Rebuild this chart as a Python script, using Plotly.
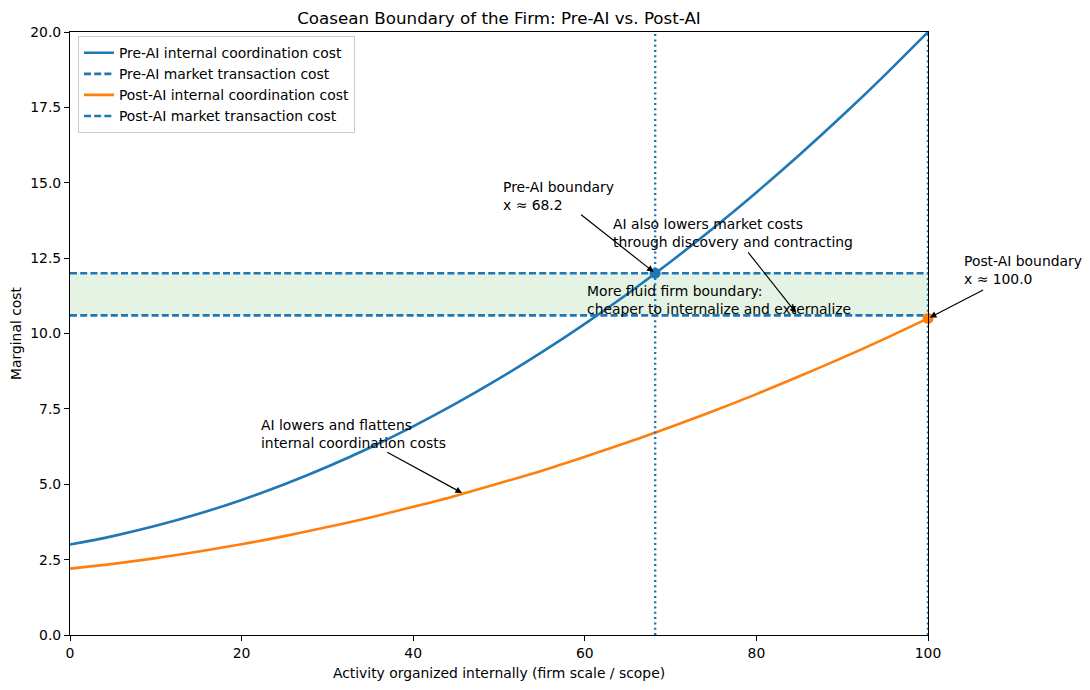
import plotly.graph_objects as go

# ---- data ----
activity = [0, 5, 10, 15, 20, 25, 30, 35, 40, 45, 50, 55, 60, 65, 70, 75, 80, 85, 90, 95, 100]
pre_internal = [3.00, 3.28, 3.62, 4.02, 4.48, 5.00, 5.58, 6.22, 6.92, 7.68, 8.50,
                9.38, 10.32, 11.32, 12.38, 13.50, 14.68, 15.92, 17.22, 18.58, 20.00]
post_internal = [2.20, 2.36, 2.55, 2.77, 3.01, 3.28, 3.58, 3.90, 4.25, 4.62, 5.03,
                 5.45, 5.91, 6.39, 6.90, 7.43, 7.99, 8.58, 9.19, 9.83, 10.50]
pre_market = 12.0
post_market = 10.6
pre_boundary_x = 68.2
post_boundary_x = 100.0
post_boundary_y = 10.5
x_ticks = [0, 20, 40, 60, 80, 100]
y_ticks = [0, 2.5, 5, 7.5, 10, 12.5, 15, 17.5, 20]

BLUE = "#1f77b4"
ORANGE = "#ff7f0e"
FONT = "DejaVu Sans"
FS = 13.9

fig = go.Figure()

# shaded band between market costs
fig.add_shape(type="rect", xref="x", yref="y", x0=0, x1=100, y0=post_market, y1=pre_market,
              fillcolor="rgba(44,160,44,0.13)", line_width=0, layer="below")

fig.add_trace(go.Scatter(x=activity, y=pre_internal, mode="lines", line_shape="spline",
                         line=dict(color=BLUE, width=2.6), name="Pre-AI internal coordination cost"))
fig.add_trace(go.Scatter(x=[0, 100], y=[pre_market, pre_market], mode="lines",
                         line=dict(color=BLUE, width=2.6, dash="7px,3.2px"),
                         name="Pre-AI market transaction cost"))
fig.add_trace(go.Scatter(x=activity, y=post_internal, mode="lines", line_shape="spline",
                         line=dict(color=ORANGE, width=2.6), name="Post-AI internal coordination cost"))
fig.add_trace(go.Scatter(x=[0, 100], y=[post_market, post_market], mode="lines",
                         line=dict(color=BLUE, width=2.6, dash="7px,3.2px"),
                         name="Post-AI market transaction cost"))

# vertical boundary lines
fig.add_trace(go.Scatter(x=[pre_boundary_x, pre_boundary_x], y=[0, 20], mode="lines",
                         line=dict(color=BLUE, width=2.4, dash="2px,3.3px"), showlegend=False))
fig.add_trace(go.Scatter(x=[post_boundary_x, post_boundary_x], y=[0, 20], mode="lines",
                         line=dict(color=BLUE, width=2.4, dash="2px,3.3px"), showlegend=False,
                         cliponaxis=False))

# boundary markers
fig.add_trace(go.Scatter(x=[pre_boundary_x], y=[pre_market], mode="markers",
                         marker=dict(color=BLUE, size=11), showlegend=False))
fig.add_trace(go.Scatter(x=[post_boundary_x], y=[post_boundary_y], mode="markers",
                         marker=dict(color=ORANGE, size=11), showlegend=False, cliponaxis=False))

def text_ann(x, y, text, xref="x"):
    fig.add_annotation(x=x, y=y, xref=xref, yref="y", text=text, showarrow=False,
                       xanchor="left", yanchor="top", align="left",
                       font=dict(family=FONT, size=FS, color="black"))

def arrow(x, y, ax, ay):
    fig.add_annotation(x=x, y=y, ax=ax, ay=ay, xref="x", yref="y", axref="x", ayref="y",
                       text="", showarrow=True, arrowhead=2, arrowsize=1.1, arrowwidth=1.2,
                       arrowcolor="black", standoff=2)

text_ann(50.2, 15.2, "Pre-AI boundary<br>x ≈ 68.2")
arrow(pre_boundary_x, pre_market, 59.4, 13.98)

text_ann(63.05, 13.98, "AI also lowers market costs<br>through discovery and contracting")
arrow(84.8, 10.62, 78.9, 12.74)

text_ann(60.06, 11.74, "More fluid firm boundary:<br>cheaper to internalize and externalize")

# text sits right of the x range, so place it in paper coordinates (x range is 0..100)
text_ann(104.0 / 100.0, 12.73, "Post-AI boundary<br>x ≈ 100.0", xref="paper")
arrow(post_boundary_x, post_boundary_y, 106.6, 11.47)

text_ann(22.06, 7.31, "AI lowers and flattens<br>internal coordination costs")
arrow(45.9, 4.68, 36.8, 6.09)

axis_common = dict(showline=True, linecolor="black", linewidth=1.1, mirror=True,
                   ticks="outside", ticklen=5, tickcolor="black", tickwidth=1.1,
                   showgrid=False, zeroline=False,
                   tickfont=dict(family=FONT, size=FS, color="black"))

fig.update_layout(
    width=1090, height=690,
    margin=dict(l=70, r=162, t=32, b=51),
    paper_bgcolor="white", plot_bgcolor="white",
    font=dict(family=FONT, size=FS, color="black"),
    title=dict(text="Coasean Boundary of the Firm: Pre-AI vs. Post-AI", x=0.5, xref="paper",
               xanchor="center", y=1 - 18 / 690, yanchor="middle", yref="container",
               font=dict(family=FONT, size=16.7, color="black")),
    xaxis=dict(range=[0, 100], tickvals=x_ticks,
               title=dict(text="Activity organized internally (firm scale / scope)", standoff=8,
                          font=dict(family=FONT, size=FS)),
               **axis_common),
    yaxis=dict(range=[0, 20], tickvals=y_ticks, tickformat=".1f",
               title=dict(text="Marginal cost", standoff=5, font=dict(family=FONT, size=FS)),
               **axis_common),
    legend=dict(x=0.0093, y=0.993, xanchor="left", yanchor="top",
                bgcolor="rgba(255,255,255,0.8)", bordercolor="#cccccc", borderwidth=1,
                font=dict(family=FONT, size=FS), tracegroupgap=0, itemwidth=30),
    showlegend=True,
)

fig.write_html("out.html", config={"displayModeBar": False},
               post_script="document.body.style.margin='0';")
